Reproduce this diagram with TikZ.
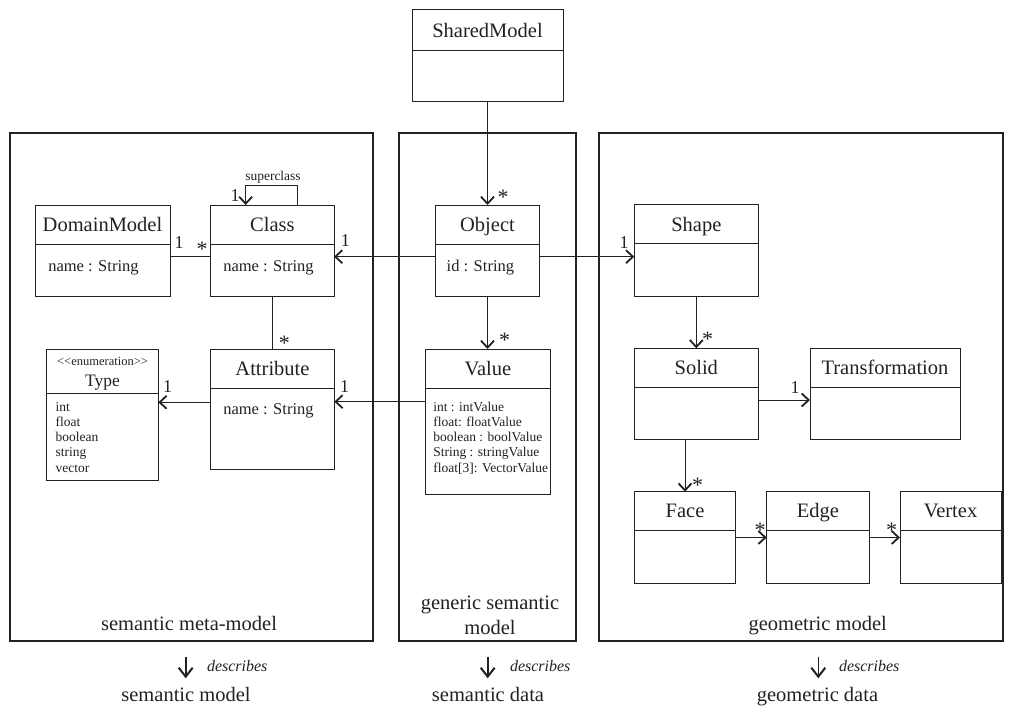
\documentclass[tikz,border=0pt]{standalone}
\usepackage{fontspec}
\setmainfont{LiberationSerif}[Extension=.ttf, UprightFont=*-Regular, ItalicFont=*-Italic, BoldFont=*-Bold, BoldItalicFont=*-BoldItalic]
\usetikzlibrary{arrows.meta,calc}
\definecolor{ink}{HTML}{222222}
\tikzset{
  box/.style={draw=ink, line width=1pt, inner sep=0pt, outer sep=0pt, anchor=north west},
  frame/.style={draw=ink, line width=2pt, inner sep=0pt, outer sep=0pt, anchor=north west},
  divider/.style={draw=ink, line width=1pt},
  assoc/.style={draw=ink, line width=1pt},
  nav/.style={assoc, -{Straight Barb[length=7pt, width=13pt, line width=1.8pt]}},
  descarrow/.style={draw=ink, line width=1.6pt, -{Straight Barb[length=9pt, width=14pt, line width=2pt]}},
  txt/.style={text=ink, inner sep=0pt, outer sep=0pt},
  titlef/.style={txt, font=\fontsize{20.5}{24}\selectfont},
  attrf/.style={txt, font=\fontsize{16.5}{20}\selectfont},
  smallf/.style={txt, font=\fontsize{13.5}{15}\selectfont},
  enumf/.style={txt, font=\fontsize{12.5}{15}\selectfont},
  typef/.style={txt, font=\fontsize{17.5}{21}\selectfont},
  multf/.style={txt, font=\fontsize{18}{21}\selectfont},
  starf/.style={txt, font=\fontsize{22}{24}\selectfont, yshift=-3.5pt},
  labf/.style={txt, font=\fontsize{20.5}{25}\selectfont},
  descf/.style={txt, font=\fontsize{16}{19}\selectfont\itshape},
}
\newcommand{\umlclass}[7]{%
  \node[box, minimum width={(#4-#2)*1pt}, minimum height={(#5-#3)*1pt}] (#1) at (#2,#3) {};
  \draw[divider] (#2,#6) -- (#4,#6);
  \node[titlef, anchor=base] (#1-title) at ({(#2+#4)/2},{#6-12.5}) {#7};
}
\begin{document}
\begin{tikzpicture}[x=1pt, y=-1pt]
\useasboundingbox (0,0) rectangle (1015,706);

% frames
\node[frame, minimum width=363pt, minimum height=508pt] (fl) at (10,133) {};
\node[frame, minimum width=177pt, minimum height=508pt] (fm) at (399,133) {};
\node[frame, minimum width=404pt, minimum height=508pt] (fr) at (599,133) {};
\node[labf, anchor=base] (fl-lab) at (189,630) {semantic meta-model};
\node[labf, align=center, anchor=center] (fm-lab) at (490,615.5) {generic semantic\\model};
\node[labf, anchor=base] (fr-lab) at (817.7,630) {geometric model};

% classes
\umlclass{sm}{412}{10}{563}{102}{50.5}{SharedModel}
\umlclass{dm}{35}{205}{170}{296}{244}{DomainModel}
\umlclass{cls}{210.7}{205}{334}{296}{244}{Class}
\umlclass{obj}{435.5}{205}{539.5}{296}{244}{Object}
\umlclass{shape}{634.3}{204.5}{758.3}{296}{243.5}{Shape}
\umlclass{attr}{210.7}{349}{334.3}{469}{388}{Attribute}
\umlclass{val}{425}{349}{550.7}{494.3}{388}{Value}
\umlclass{solid}{634.3}{348.3}{758.3}{439.3}{387.3}{Solid}
\umlclass{trans}{810}{348.3}{960}{439.3}{387.3}{Transformation}
\umlclass{face}{634.3}{491.7}{735.7}{583.3}{530}{Face}
\umlclass{edge}{766.7}{491.7}{869}{583.3}{530}{Edge}
\umlclass{vert}{900}{491.7}{1001}{583.3}{530}{Vertex}

% enumeration Type
\node[box, minimum width=111.6pt, minimum height=131pt] (typ) at (46.7,349) {};
\draw[divider] (46.7,393) -- (158.3,393);
\node[enumf, anchor=base] (typ-st) at (102.5,365) {<{}<enumeration>{}>};
\node[typef, anchor=base] (typ-title) at (102.5,386) {Type};
\foreach \t [count=\i] in {int,float,boolean,string,vector}
  \node[smallf, anchor=base west] (typ-\i) at (55.7,{411.2+15.2*(\i-1)}) {\t};

% attributes
\node[attrf, anchor=base west] (dm-a) at (48.3,271) {name : String};
\node[attrf, anchor=base west] (cls-a) at (223.3,271) {name : String};
\node[attrf, anchor=base west] (obj-a) at (446.7,271) {id : String};
\node[attrf, anchor=base west] (attr-a) at (223.3,414) {name : String};
\foreach \t [count=\i] in {int : intValue, float: floatValue, boolean : boolValue, String : stringValue, {float[3]: VectorValue}}
  \node[smallf, anchor=base west] (val-\i) at (433.3,{411.2+15.2*(\i-1)}) {\t};

% helper coordinates
\coordinate (p1) at ([yshift=-6.2pt]obj.east);
\coordinate (p2) at ([yshift=6.7pt]attr.west);
\coordinate (p3) at ([yshift=20pt]val.west);

% connectors
\draw[nav] (sm.south) -- (sm.south |- obj.north);
\draw[nav] ([yshift=-6.2pt]obj.west) -- ([yshift=-6.2pt]cls.east);
\draw[nav] (p1) -- (p1 -| shape.west);
\draw[assoc] ([yshift=-6.2pt]dm.east) -- ([yshift=-6.2pt]cls.west);
\draw[assoc] (cls.south) -- (cls.south |- attr.north);
\draw[nav] (p2) -- (p2 -| typ.east);
\draw[nav] (p3) -- (p3 -| attr.east);
\draw[nav] (obj.south) -- (obj.south |- val.north);
\draw[nav] (shape.south) -- (shape.south |- solid.north);
\draw[nav] ([yshift=-6.2pt]solid.east) -- ([yshift=-6.2pt]trans.west);
\draw[nav] (solid.south -| face.north) -- (face.north);
\draw[nav] (face.east) -- (edge.west);
\draw[nav] (edge.east) -- (vert.west);
\draw[nav] ([xshift=25.3pt]cls.north) -- ++(0,-20) -| ([xshift=-26.7pt]cls.north);
\node[smallf, anchor=base] (sclbl) at (273,180.5) {superclass};

% multiplicities
\node[multf] (m1) at (179,243) {1};
\node[starf] (m2) at (202,246) {*};
\node[multf] (m3) at (235,196) {1};
\node[multf] (m4) at (345.3,241) {1};
\node[starf] (m5) at (284.3,340) {*};
\node[multf] (m6) at (167.5,386.7) {1};
\node[multf] (m7) at (344.5,386.7) {1};
\node[starf] (m8) at (503,194) {*};
\node[multf] (m9) at (624,243) {1};
\node[starf] (m10) at (504.5,337) {*};
\node[starf] (m11) at (707.5,336) {*};
\node[multf] (m12) at (795,387.5) {1};
\node[starf] (m13) at (697.5,482) {*};
\node[starf] (m14) at (760,527) {*};
\node[starf] (m15) at (891.5,527) {*};

% describes
\coordinate (a1s) at (185.7,656.7); \coordinate (a1e) at (185.7,678.3);
\coordinate (a2s) at (487.7,656.7); \coordinate (a2e) at (487.7,678.3);
\coordinate (a3s) at (818.3,656.7); \coordinate (a3e) at (818.3,678.3);
\draw[descarrow] (a1s) -- (a1e);
\draw[descarrow] (a2s) -- (a2e);
\draw[descarrow] (a3s) -- (a3e);
\node[descf, anchor=base west] (d1) at (207,671.5) {describes};
\node[descf, anchor=base west] (d2) at (510,671.5) {describes};
\node[descf, anchor=base west] (d3) at (839,671.5) {describes};
\node[labf, anchor=base] (b1) at (186,701) {semantic model};
\node[labf, anchor=base] (b2) at (488,701) {semantic data};
\node[labf, anchor=base] (b3) at (817.5,701) {geometric data};
\end{tikzpicture}
\end{document}
